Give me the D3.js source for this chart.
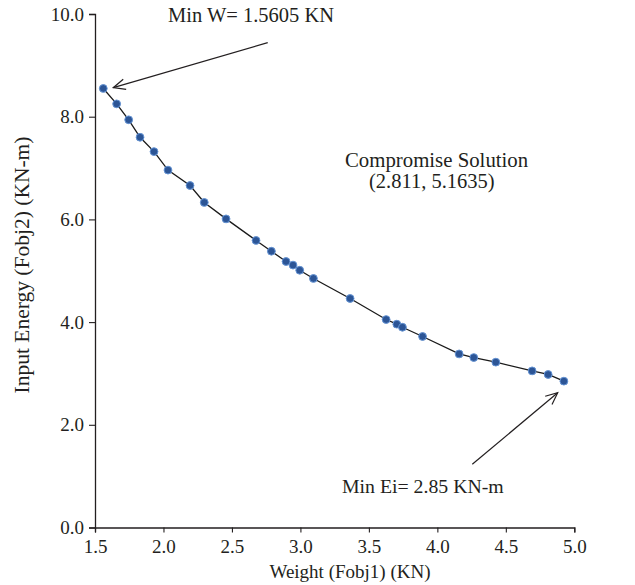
<!DOCTYPE html>
<html>
<head>
<meta charset="utf-8">
<script src="https://cdn.jsdelivr.net/npm/d3@7"></script>
<style>
  html, body { margin: 0; padding: 0; background: #fff; }
  svg text { font-family: "Liberation Serif", "DejaVu Serif", serif; fill: #231f20; }
</style>
</head>
<body>
<svg id="chart" width="635" height="585"></svg>
<script>
// Pareto front: weight (Fobj1, KN) vs input energy (Fobj2, KN-m)
const weight = [1.5605, 1.658, 1.746, 1.829, 1.931, 2.033, 2.194, 2.298, 2.457, 2.676,
                2.788, 2.895, 2.946, 2.995, 3.095, 3.363, 3.626, 3.704, 3.745, 3.892,
                4.159, 4.266, 4.427, 4.692, 4.809, 4.924];
const energy = [8.55, 8.25, 7.94, 7.60, 7.32, 6.96, 6.66, 6.33, 6.01, 5.59,
                5.38, 5.18, 5.11, 5.01, 4.85, 4.46, 4.05, 3.96, 3.90, 3.72,
                3.38, 3.31, 3.22, 3.05, 2.98, 2.85];
const xTicks = [1.5, 2.0, 2.5, 3.0, 3.5, 4.0, 4.5, 5.0];
const yTicks = [0, 2, 4, 6, 8, 10];

const svg = d3.select("#chart");
const x = d3.scaleLinear().domain([1.5, 5.0]).range([95, 574.3]);
const y = d3.scaleLinear().domain([0, 10]).range([527.5, 14]);

// axes
const xAxis = svg.append("g").attr("transform", "translate(0,527.5)")
  .call(d3.axisBottom(x).tickValues(xTicks).tickFormat(d3.format(".1f")).tickSizeOuter(0).tickSize(5));
const yAxis = svg.append("g").attr("transform", "translate(95,0)")
  .call(d3.axisLeft(y).tickValues(yTicks).tickFormat(d3.format(".1f")).tickSizeOuter(0).tickSize(6));
[xAxis, yAxis].forEach(g => {
  g.select(".domain").attr("stroke", "#231f20").attr("stroke-width", 1.3);
  g.selectAll(".tick line").attr("stroke", "#231f20").attr("stroke-width", 1.1);
  g.selectAll(".tick text").attr("font-size", 19).attr("font-family", null).style("fill", "#231f20");
});
xAxis.selectAll(".tick text").attr("dy", null).attr("y", 25);
yAxis.selectAll(".tick text").attr("x", -11).attr("dy", "0.32em");

// axis titles
svg.append("text").attr("x", 350).attr("y", 578).attr("text-anchor", "middle")
  .attr("font-size", 19).text("Weight (Fobj1) (KN)");
svg.append("text").attr("transform", "translate(29,265) rotate(-90)").attr("text-anchor", "middle")
  .attr("font-size", 21.5).text("Input Energy (Fobj2) (KN-m)");

// curve and points
const pts = weight.map((w, i) => [w, energy[i]]);
svg.append("path").datum(pts)
  .attr("fill", "none").attr("stroke", "#1a1a1a").attr("stroke-width", 1.3)
  .attr("d", d3.line().x(d => x(d[0])).y(d => y(d[1])));
svg.append("g").selectAll("circle").data(pts).join("circle")
  .attr("cx", d => x(d[0])).attr("cy", d => y(d[1])).attr("r", 3.9)
  .attr("fill", "#2c5596").attr("stroke", "#6594d4").attr("stroke-width", 1);

// annotations with open arrowheads
function arrow(x1, y1, x2, y2) {
  svg.append("line").attr("x1", x1).attr("y1", y1).attr("x2", x2).attr("y2", y2)
    .attr("stroke", "#231f20").attr("stroke-width", 1.2);
  const a = Math.atan2(y1 - y2, x1 - x2), len = 13, spread = 0.42;
  const head = [
    [x2 + len * Math.cos(a + spread), y2 + len * Math.sin(a + spread)],
    [x2, y2],
    [x2 + len * Math.cos(a - spread), y2 + len * Math.sin(a - spread)]
  ];
  svg.append("path").attr("d", d3.line()(head)).attr("fill", "none")
    .attr("stroke", "#231f20").attr("stroke-width", 1.2);
}
arrow(267.7, 42.7, 113.3, 87.7);
arrow(472.3, 464.3, 557.7, 392.7);

svg.append("text").attr("x", 168).attr("y", 22).attr("font-size", 20.5).text("Min W= 1.5605 KN");
svg.append("text").attr("x", 345).attr("y", 167).attr("font-size", 20.8).text("Compromise Solution");
svg.append("text").attr("x", 369).attr("y", 188).attr("font-size", 20.5).text("(2.811, 5.1635)");
svg.append("text").attr("x", 342).attr("y", 493).attr("font-size", 19.8).text("Min Ei= 2.85 KN-m");
</script>
</body>
</html>
